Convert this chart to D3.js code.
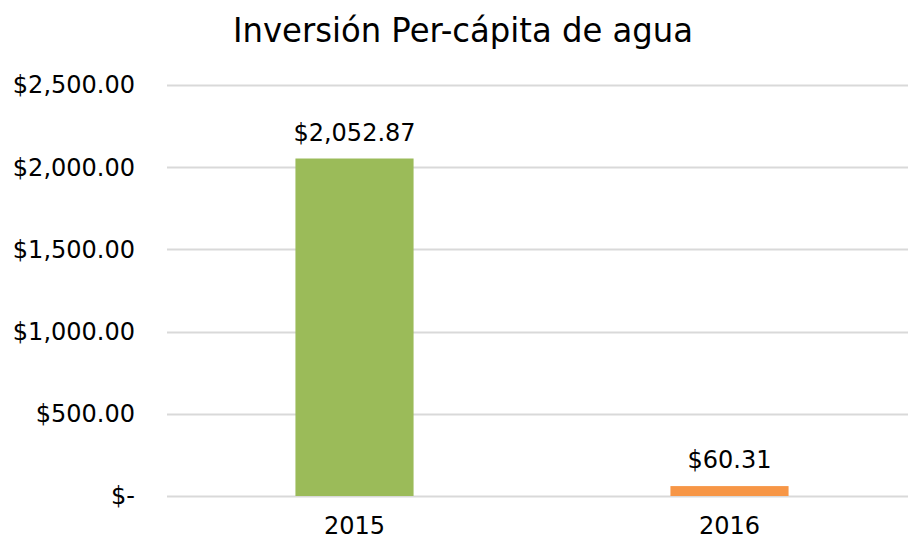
<!DOCTYPE html>
<html>
<head>
<meta charset="utf-8">
<script src="https://cdn.jsdelivr.net/npm/d3@7"></script>
<style>
  body { margin: 0; background: #fff; }
  text { font-family: "DejaVu Sans", sans-serif; fill: #000; }
</style>
</head>
<body>
<script>
// data
var years = ["2015", "2016"];
var values = [2052.87, 60.31];
var barColors = ["#9BBB59", "#F79646"];
var yTicks = [0, 500, 1000, 1500, 2000, 2500];

var width = 908, height = 542;
var margin = { top: 85, right: -9, bottom: 46, left: 167 };

var svg = d3.select("body").append("svg")
  .attr("width", width)
  .attr("height", height);

var x = d3.scaleBand()
  .domain(years)
  .range([margin.left, width - margin.right]);

var y = d3.scaleLinear()
  .domain([0, 2500])
  .range([height - margin.bottom, margin.top]);

var money = d3.format(",.2f");
function fmt(v) { return v === 0 ? "$-" : "$" + money(v); }

// gridlines
svg.append("g")
  .selectAll("line")
  .data(yTicks)
  .enter().append("line")
  .attr("x1", margin.left)
  .attr("x2", width)
  .attr("y1", function(d) { return Math.round(y(d)) + 0.5; })
  .attr("y2", function(d) { return Math.round(y(d)) + 0.5; })
  .attr("stroke", "#d9d9d9")
  .attr("stroke-width", 2);

// y labels
svg.append("g")
  .selectAll("text")
  .data(yTicks)
  .enter().append("text")
  .attr("x", 135)
  .attr("y", function(d) { return y(d); })
  .attr("dy", "0.35em")
  .attr("text-anchor", "end")
  .style("font-size", "24px")
  .text(fmt);

// bars
var bw = x.bandwidth() * 0.315;
svg.append("g")
  .selectAll("rect")
  .data(values)
  .enter().append("rect")
  .attr("x", function(d, i) { return x(years[i]) + x.bandwidth() / 2 - bw / 2; })
  .attr("y", function(d) { return y(d); })
  .attr("width", bw)
  .attr("height", function(d) { return y(0) - y(d); })
  .attr("fill", function(d, i) { return barColors[i]; });

// value labels
svg.append("g")
  .selectAll("text")
  .data(values)
  .enter().append("text")
  .attr("x", function(d, i) { return x(years[i]) + x.bandwidth() / 2; })
  .attr("y", function(d) { return y(d) - 18; })
  .attr("text-anchor", "middle")
  .style("font-size", "24px")
  .text(function(d) { return fmt(d); });

// x labels
svg.append("g")
  .selectAll("text")
  .data(years)
  .enter().append("text")
  .attr("x", function(d) { return x(d) + x.bandwidth() / 2; })
  .attr("y", 534)
  .attr("text-anchor", "middle")
  .style("font-size", "24px")
  .text(function(d) { return d; });

// title
svg.append("text")
  .attr("x", 463)
  .attr("y", 42)
  .attr("text-anchor", "middle")
  .style("font-size", "34px")
  .attr("textLength", 460)
  .attr("lengthAdjust", "spacingAndGlyphs")
  .text("Inversión Per-cápita de agua");
</script>
</body>
</html>
